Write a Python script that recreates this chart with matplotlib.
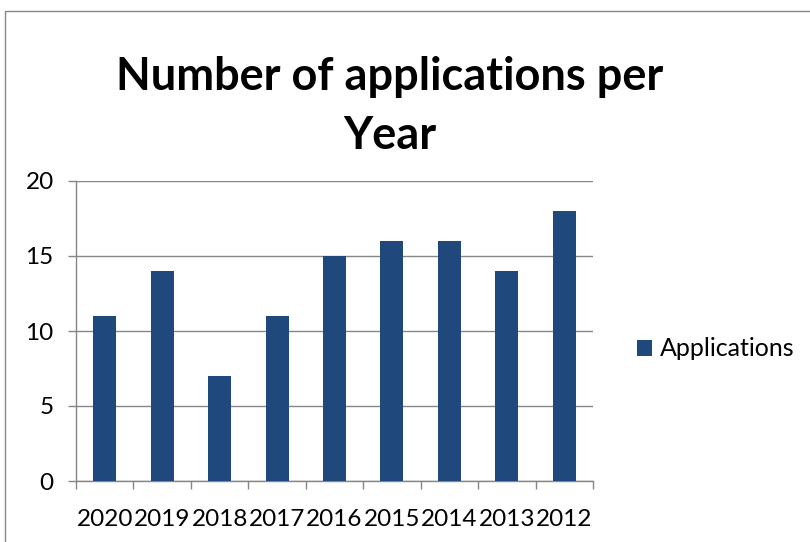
import matplotlib
matplotlib.use("Agg")
import matplotlib.pyplot as plt
from matplotlib.patches import Rectangle

years = ["2020", "2019", "2018", "2017", "2016", "2015", "2014", "2013", "2012"]
applications = [11, 14, 7, 11, 15, 16, 16, 14, 18]

W, H = 810, 542
bar_color = "#1f497d"
gray = "#868686"

plt.rcParams["font.family"] = ["Lato", "DejaVu Sans"]

fig = plt.figure(figsize=(W / 100, H / 100), dpi=100)

# outer chart frame (only top and left edges are visible in the reference)
fig.patches.append(Rectangle((4.5 / W, -0.2), 1.5, 1.2 - 10.5 / H,
                             transform=fig.transFigure, fill=False,
                             edgecolor=gray, linewidth=1.0))

ax = fig.add_axes([76 / W, (H - 481) / H, (593 - 76) / W, (481 - 181) / H])
x = list(range(len(years)))
ax.bar(x, applications, width=0.4, color=bar_color, label="Applications", zorder=3)

ax.set_ylim(0, 20)
ax.set_xlim(-0.5, len(years) - 0.5)
ax.set_yticks([0, 5, 10, 15, 20])
ax.grid(axis="y", color=gray, linewidth=1.0, zorder=0)

ax.set_xticks(x)
ax.set_xticklabels(years)
ax.set_xticks([i + 0.5 for i in range(-1, len(years))], minor=True)
ax.tick_params(axis="x", which="major", length=0, pad=20, labelsize=17.5)
ax.tick_params(axis="x", which="minor", length=6, width=1.0, color=gray, direction="out")
ax.tick_params(axis="y", length=6, width=1.0, color=gray, pad=10, labelsize=17.5)

for side in ["top", "right"]:
    ax.spines[side].set_visible(False)
for side in ["left", "bottom"]:
    ax.spines[side].set_color(gray)
    ax.spines[side].set_linewidth(1.0)

fig.text(390 / W, 1 - 77 / H, "Number of applications per", ha="center", va="center",
         fontsize=32.5, fontweight="bold")
fig.text(390 / W, 1 - 136 / H, "Year", ha="center", va="center",
         fontsize=32.5, fontweight="bold")

fig.legend(loc="center left", bbox_to_anchor=(614 / W, 1 - 349 / H), frameon=False,
           fontsize=18, handlelength=0.62, handleheight=0.62, handletextpad=0.3)

fig.savefig("out.png", dpi=100)
